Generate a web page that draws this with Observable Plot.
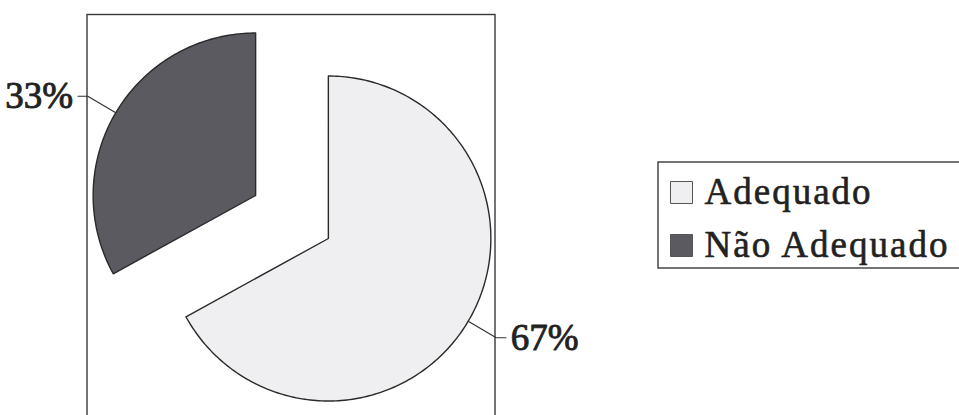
<!DOCTYPE html>
<html><head><meta charset="utf-8">
<script src="https://cdn.jsdelivr.net/npm/d3@7"></script>
<script src="https://cdn.jsdelivr.net/npm/@observablehq/plot@0.6"></script>
<style>
body{margin:0;background:#fff}
</style>
</head><body><div id="chart"></div>
<script>
// ---- data ----
const categories = ["Adequado", "Não Adequado"];
const percents = [67, 33];
const labels = ["67%", "33%"];
const colors = ["#efeff1", "#5a5a60"];

// ---- layout (pixels) ----
const W = 959, H = 415;
const cx = 291.5, cy = 216.5, R = 162.5;
const explode = 0.26;
const xDomain = [(0 - cx) / R, (W - cx) / R];
const yDomain = [(cy - H) / R, cy / R];
const ux = px => (px - cx) / R;
const uy = py => (cy - py) / R;

const total = d3.sum(percents);
let acc = 0;
const slices = categories.map((c, i) => {
  const a0 = acc / total * 2 * Math.PI; acc += percents[i];
  const a1 = acc / total * 2 * Math.PI;
  const am = (a0 + a1) / 2;
  return {c, i, a0, a1, am, ox: explode * Math.sin(am), oy: explode * Math.cos(am)};
});
const polys = slices.map(s => {
  const n = Math.ceil((s.a1 - s.a0) / (Math.PI / 180));
  const pts = [{c: s.c, x: s.ox, y: s.oy}];
  for (let k = 0; k <= n; k++) {
    const a = s.a0 + (s.a1 - s.a0) * k / n;
    pts.push({c: s.c, x: s.ox + Math.sin(a), y: s.oy + Math.cos(a)});
  }
  pts.push({c: s.c, x: s.ox, y: s.oy});
  return pts;
});
const leaders = slices.map(s => {
  const sx = Math.sin(s.am), sy = Math.cos(s.am), side = sx >= 0 ? 1 : -1;
  const r2 = 1.2;
  const p1 = {x: s.ox + sx, y: s.oy + sy};
  const p2 = {x: s.ox + r2 * sx, y: s.oy + r2 * sy};
  const p3 = {x: p2.x + side * 0.06, y: p2.y};
  return {s, side, pts: [p1, p2, p3], tx: p3.x + side * 0.03, ty: p3.y, label: labels[s.i]};
});

const legendRows = categories.map((c, i) => ({c, color: colors[i], x: ux(681), y: uy(192 + i * 53)}));
const textStyle = {fontSize: 37, fontFamily: "Liberation Serif", fill: "#222", stroke: "#222", strokeWidth: 0.9, paintOrder: "fill"};

const marks = [
  Plot.rect([{x1: ux(87), x2: ux(495), y1: uy(14.5), y2: uy(430)}], {x1: "x1", x2: "x2", y1: "y1", y2: "y2", fill: "none", stroke: "#3a3a3a", strokeWidth: 1.4}),
  ...polys.map((p, i) => Plot.line(p, {x: "x", y: "y", fill: colors[i], stroke: "#2a2a2a", strokeWidth: 1.4, curve: "linear-closed"})),
  ...leaders.map(l => Plot.line(l.pts, {x: "x", y: "y", stroke: "#333", strokeWidth: 1.2})),
  Plot.text(leaders.filter(d => d.side > 0), {x: "tx", y: "ty", text: "label", textAnchor: "start", ...textStyle}),
  Plot.text(leaders.filter(d => d.side < 0), {x: "tx", y: "ty", text: "label", textAnchor: "end", ...textStyle}),
  Plot.rect([{x1: ux(658), x2: ux(990), y1: uy(162), y2: uy(268)}], {x1: "x1", x2: "x2", y1: "y1", y2: "y2", fill: "none", stroke: "#3a3a3a", strokeWidth: 1.4}),
  Plot.dot(legendRows, {x: "x", y: "y", symbol: "square", r: 12.4, fill: "color", stroke: "#555", strokeWidth: 1}),
  Plot.text(legendRows, {x: d => d.x + ux(704) - ux(681), y: "y", text: "c", textAnchor: "start", ...textStyle, strokeWidth: 0.6})
];

const chart = Plot.plot({
  width: W, height: H, margin: 0,
  x: {domain: xDomain, axis: null},
  y: {domain: yDomain, axis: null},
  color: {type: "identity"},
  style: {background: "#fff", overflow: "hidden"},
  marks
});
document.getElementById("chart").appendChild(chart);
const tg = chart.querySelectorAll("g[aria-label=text]");
d3.select(tg[tg.length - 1]).selectAll("text").attr("letter-spacing", "2px");
</script>
</body></html>
